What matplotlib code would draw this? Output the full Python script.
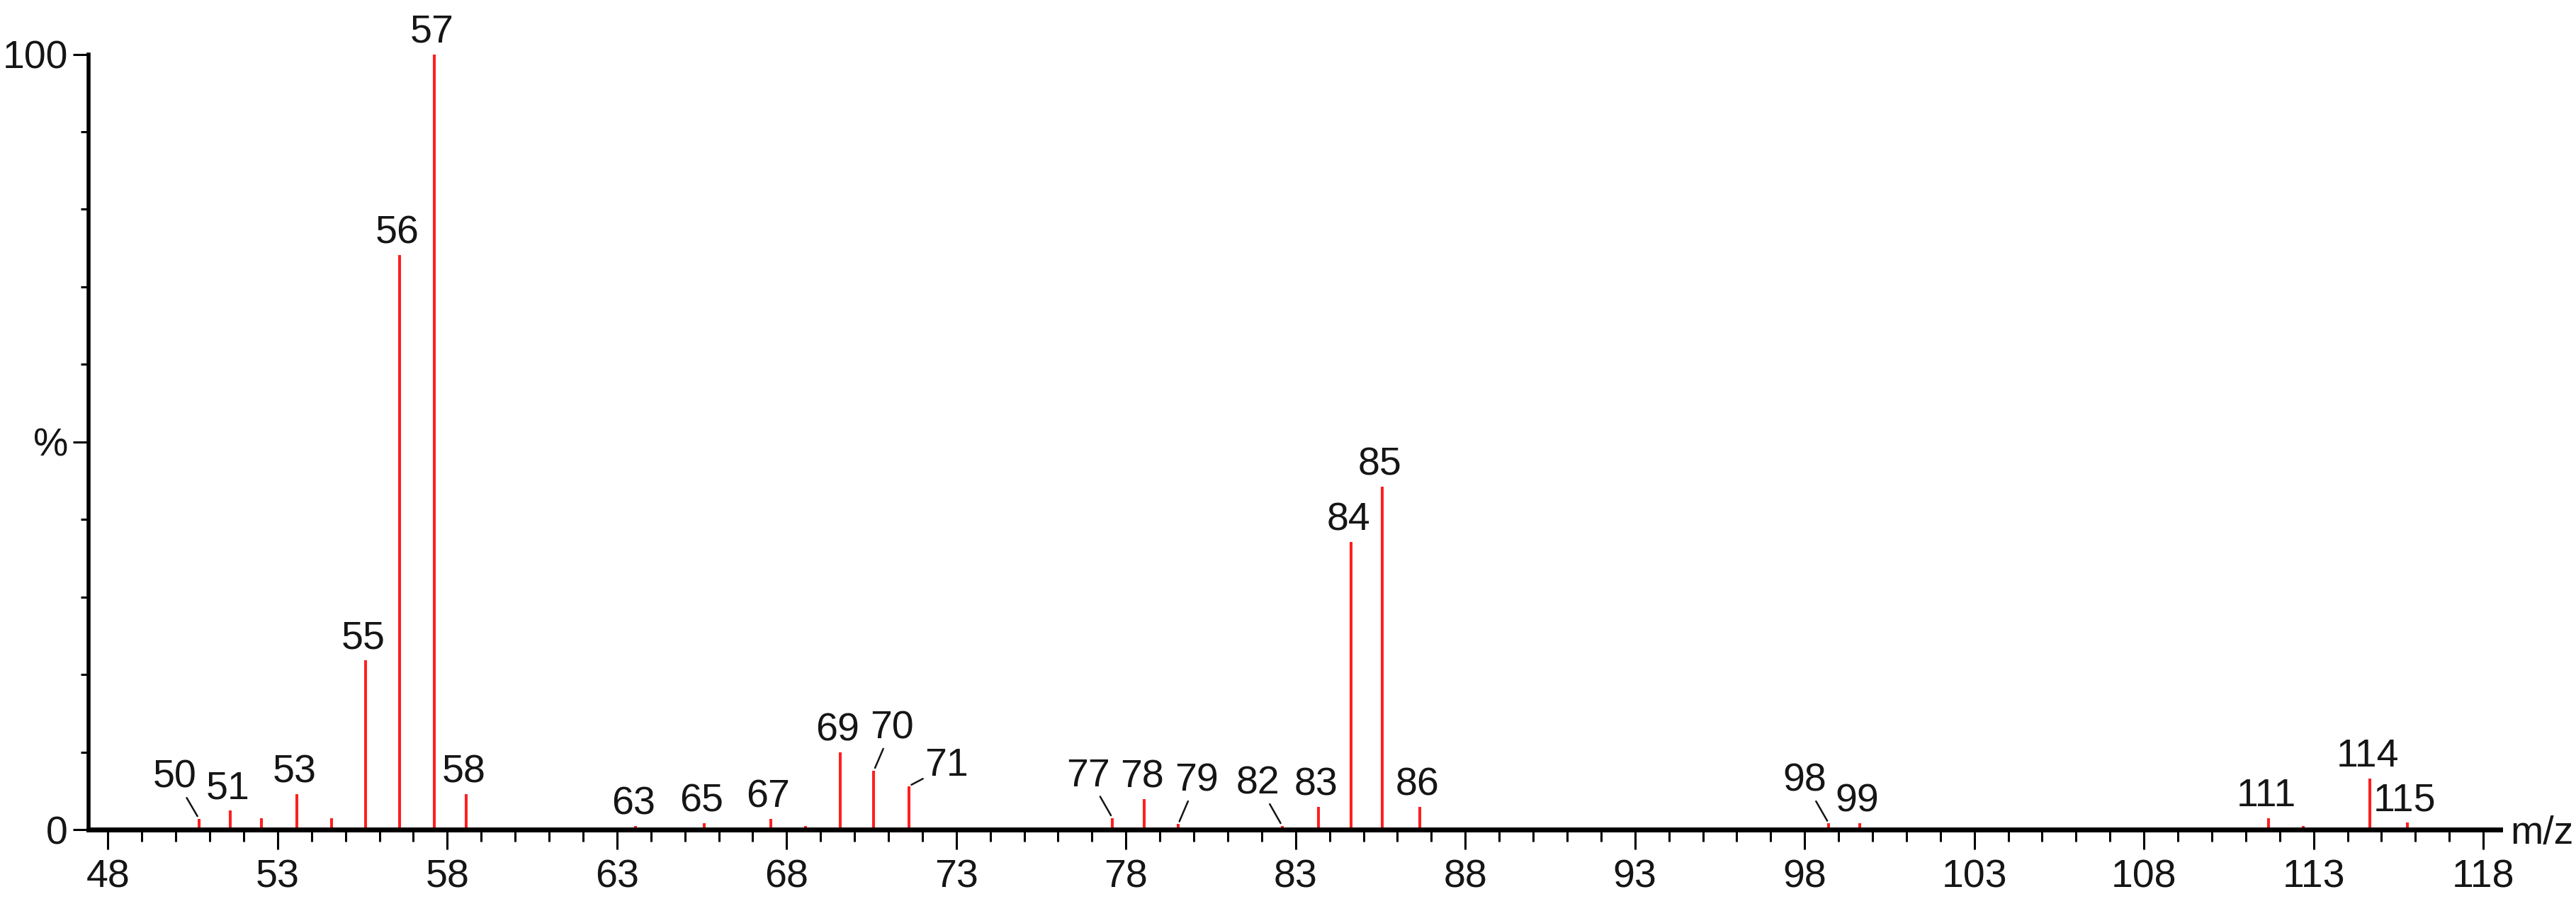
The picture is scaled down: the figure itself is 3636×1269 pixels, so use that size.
import matplotlib
matplotlib.use("Agg")
import matplotlib.pyplot as plt
from matplotlib.ticker import MultipleLocator, FixedLocator

plt.rcParams["font.family"] = ["Liberation Sans Narrow", "Liberation Sans", "DejaVu Sans"]

# ---- data: peak positions, relative intensity (%) ----
peak_mz = [50.68, 51.60, 52.53, 53.56, 54.58, 55.60, 56.60, 57.62, 58.56,
           63.55, 65.57, 67.53, 68.55, 69.57, 70.57, 71.60,
           77.60, 78.54, 79.54, 82.60, 83.68, 84.63, 85.56, 86.65,
           98.71, 99.62, 111.68, 112.70, 114.66, 115.76]
peak_int = [1.4, 2.5, 1.5, 4.6, 1.5, 21.8, 74.1, 100.0, 4.6,
            0.5, 0.8, 1.4, 0.5, 10.0, 7.6, 5.6,
            1.5, 3.9, 0.7, 0.5, 2.9, 37.1, 44.2, 2.9,
            0.8, 0.8, 1.5, 0.5, 6.6, 0.9]
# nominal mass label for each peak ("" = unlabelled)
peak_lbl = ["50", "51", "", "53", "", "55", "56", "57", "58",
            "63", "65", "67", "", "69", "70", "71",
            "77", "78", "79", "82", "83", "84", "85", "86",
            "98", "99", "111", "", "114", "115"]

x_ticks = [48, 53, 58, 63, 68, 73, 78, 83, 88, 93, 98, 103, 108, 113, 118]
y_ticks = [0, 50, 100]
y_ticklabels = ["0", "%", "100"]

# label placement (offset of label centre from peak top, points); leaders where set
DEFAULT_OFF = (-2.5, 22)
LEADER_OFF = {"50": (-24.5, 42), "70": (18.5, 43), "71": (38.6, 20.4),
              "77": (-24.3, 42.5), "79": (18.8, 44), "82": (-24.3, 42.7),
              "98": (-24.8, 43.2)}

RED = "#ff1f1f"
INK = "#151515"
FS = 40

fig = plt.figure(figsize=(36.36, 12.69), dpi=100)
ax = fig.add_axes([0.0344, 0.0772, 0.9362, 0.8625])

ax.vlines(peak_mz, 0, peak_int, colors=RED, linewidth=2.9, clip_on=False, zorder=2)

for mz, h, lab in zip(peak_mz, peak_int, peak_lbl):
    if not lab:
        continue
    if lab in LEADER_OFF:
        dx, dy = LEADER_OFF[lab]
        ax.annotate(lab, xy=(mz, h), xytext=(dx, dy), textcoords="offset points",
                    ha="center", va="center", fontsize=FS, color=INK,
                    arrowprops=dict(arrowstyle="-", color=INK, lw=1.8,
                                    shrinkA=0, shrinkB=3),
                    annotation_clip=False)
    else:
        dx, dy = DEFAULT_OFF
        ax.annotate(lab, xy=(mz, h), xytext=(dx, dy), textcoords="offset points",
                    ha="center", va="center", fontsize=FS, color=INK,
                    annotation_clip=False)

ax.set_xlim(47.43, 118.5)
ax.set_ylim(0, 100)

for s in ["top", "right"]:
    ax.spines[s].set_visible(False)
ax.spines["left"].set_linewidth(4.0)
ax.spines["bottom"].set_linewidth(5.0)
ax.spines["left"].set_color("black")
ax.spines["bottom"].set_color("black")
ax.spines["left"].set_capstyle("projecting")
ax.spines["bottom"].set_capstyle("projecting")

ax.xaxis.set_major_locator(FixedLocator(x_ticks))
ax.xaxis.set_minor_locator(MultipleLocator(1))
ax.yaxis.set_major_locator(FixedLocator(y_ticks))
ax.yaxis.set_minor_locator(MultipleLocator(10))
ax.set_yticklabels(y_ticklabels)

ax.tick_params(axis="x", which="major", direction="out", length=20, width=2.2,
               pad=10, labelsize=FS, labelcolor=INK, color="black")
ax.tick_params(axis="x", which="minor", direction="out", length=12, width=2.2,
               color="black")
ax.tick_params(axis="y", which="major", direction="out", length=16, width=2.2,
               pad=5, labelsize=FS, labelcolor=INK, color="black")
ax.tick_params(axis="y", which="minor", direction="out", length=8, width=2.2,
               color="black")

ax.annotate("m/z", xy=(1.0, 0), xycoords="axes fraction", xytext=(10, -4),
            textcoords="offset points", ha="left", va="center",
            fontsize=FS, color=INK, annotation_clip=False)

fig.savefig("out.png", dpi=100, facecolor="white")
